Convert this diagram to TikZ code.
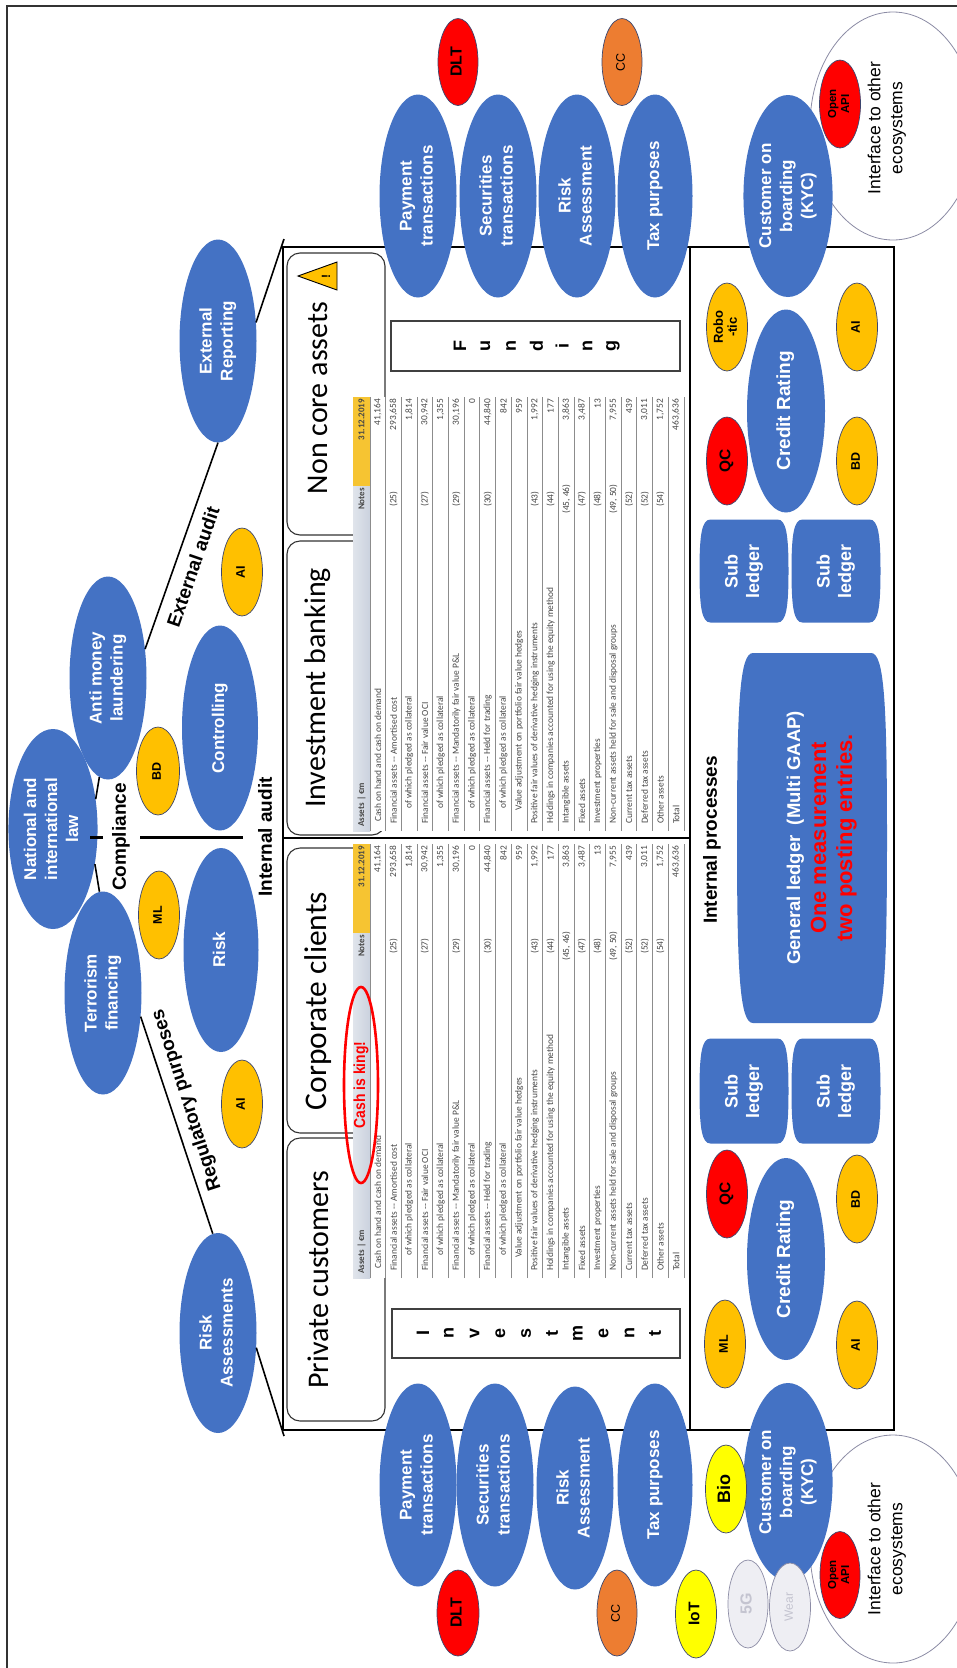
\documentclass[tikz,border=0pt]{standalone}
\usepackage{fontspec}
\setmainfont{Liberation Sans}
\newfontfamily\calib{Carlito}
\usetikzlibrary{shapes.geometric,calc}

\definecolor{ublue}{RGB}{68,114,196}
\definecolor{ugold}{RGB}{255,192,0}
\definecolor{ured}{RGB}{255,0,0}
\definecolor{uorange}{RGB}{237,125,49}
\definecolor{uyellow}{RGB}{255,255,0}
\definecolor{edgeblue}{RGB}{60,70,110}
\definecolor{hdrgrey}{RGB}{203,210,222}
\definecolor{hdryellow}{RGB}{246,196,50}
\definecolor{fadefill}{RGB}{238,238,243}
\definecolor{fadeedge}{RGB}{140,140,165}
\definecolor{fadetext}{RGB}{196,196,208}

\newcommand\fsz[2]{\fontsize{#1}{#2}\selectfont}
\newcommand\rt[1]{\rotatebox{90}{\begin{tabular}{@{}c@{}}#1\end{tabular}}}

% barrel shaped box: name, cx, cy, w, h, corner inset, text
\newcommand\barrel[7]{%
  \fill[ublue] ({#2-#4/2+#6},{#3-#5/2}) -- ({#2+#4/2-#6},{#3-#5/2})
    .. controls ({#2+#4/2-0.2*#6},{#3-#5/2}) and ({#2+#4/2},{#3-#5/2+0.15*#5}) .. ({#2+#4/2},#3)
    .. controls ({#2+#4/2},{#3+#5/2-0.15*#5}) and ({#2+#4/2-0.2*#6},{#3+#5/2}) .. ({#2+#4/2-#6},{#3+#5/2})
    -- ({#2-#4/2+#6},{#3+#5/2})
    .. controls ({#2-#4/2+0.2*#6},{#3+#5/2}) and ({#2-#4/2},{#3+#5/2-0.15*#5}) .. ({#2-#4/2},#3)
    .. controls ({#2-#4/2},{#3-#5/2+0.15*#5}) and ({#2-#4/2+0.2*#6},{#3-#5/2}) .. cycle;
  \node[inner sep=0pt, text=white, font=\fsz{18}{21.5}\bfseries] (#1) at (#2,#3) {#7};
}

% table rows: prefix, index, label offset, label, note, value
\newcommand\trow[6]{%
  \node[tcell, anchor=west] (#1l#2) at (#3,{17+15.7*#2-7.85}) {#4};
  \node[tcell] (#1n#2) at (332,{17+15.7*#2-7.85}) {#5};
  \node[tcell, anchor=east] (#1v#2) at (432,{17+15.7*#2-7.85}) {#6};
}
\newcommand\trowa[5]{%
  \node[tcell, anchor=west] (#1l#2) at (#3,{17+15.7*#2-7.85}) {#4};
  \node[tcell, anchor=east] (#1v#2) at (432,{17+15.7*#2-7.85}) {#5};
}

% balance sheet table, drawn along its own axes and turned upright
\newcommand\assettable[3]{%
\begin{scope}[shift={(#2,#3)}, rotate=90]
  \fill[white] (0,0) rectangle (434,331);
  \shade[left color=hdrgrey!60, right color=hdrgrey] (0,0) rectangle (345,17);
  \fill[hdryellow] (345,0) rectangle (434,17);
  \foreach \k in {0,...,20} \draw[rowline] (0,{17+15.7*\k}) -- (434,{17+15.7*\k});
  \node[tcell, anchor=west, font=\calib\fsz{9}{10}\bfseries] (#1h1) at (4,8.5) {Assets | €m};
  \node[tcell, font=\calib\fsz{9}{10}\bfseries] (#1h2) at (332,8.5) {Notes};
  \node[tcell, anchor=east, font=\calib\fsz{9}{10}\bfseries] (#1h3) at (432,8.5) {31.12.2019};
  \trowa{#1}{1}{9}{Cash on hand and cash on demand}{41,164}
  \trow{#1}{2}{7}{Financial assets -- Amortised cost}{(25)}{293,658}
  \trowa{#1}{3}{22}{of which pledged as collateral}{1,814}
  \trow{#1}{4}{7}{Financial assets -- Fair value OCI}{(27)}{30,942}
  \trowa{#1}{5}{22}{of which pledged as collateral}{1,355}
  \trow{#1}{6}{7}{Financial assets -- Mandatorily fair value P\&L}{(29)}{30,196}
  \trowa{#1}{7}{22}{of which pledged as collateral}{0}
  \trow{#1}{8}{7}{Financial assets -- Held for trading}{(30)}{44,840}
  \trowa{#1}{9}{22}{of which pledged as collateral}{842}
  \trowa{#1}{10}{20}{Value adjustment on portfolio fair value hedges}{959}
  \trow{#1}{11}{7}{Positive fair values of derivative hedging instruments}{(43)}{1,992}
  \trow{#1}{12}{7}{Holdings in companies accounted for using the equity method}{(44)}{177}
  \trow{#1}{13}{7}{Intangible assets}{(45, 46)}{3,863}
  \trow{#1}{14}{7}{Fixed assets}{(47)}{3,487}
  \trow{#1}{15}{7}{Investment properties}{(48)}{13}
  \trow{#1}{16}{7}{Non-current assets held for sale and disposal groups}{(49, 50)}{7,955}
  \trow{#1}{17}{7}{Current tax assets}{(52)}{439}
  \trow{#1}{18}{7}{Deferred tax assets}{(52)}{3,011}
  \trow{#1}{19}{7}{Other assets}{(54)}{1,752}
  \trowa{#1}{20}{7}{Total}{463,636}
\end{scope}}

\tikzset{
  bigell/.style={ellipse, fill=ublue, inner sep=0pt, minimum width=77pt, minimum height=203pt,
    text=white, font=\fsz{17}{21}\bfseries},
  smell/.style={ellipse, draw=edgeblue, line width=0.7pt, inner sep=0pt, minimum width=41pt,
    minimum height=88pt, font=\fsz{12.5}{14}\bfseries},
  goldell/.style={smell, fill=ugold},
  redell/.style={smell, fill=ured},
  orell/.style={smell, fill=uorange, font=\fsz{12.5}{14}},
  yell/.style={smell, fill=uyellow},
  fadeell/.style={smell, fill=fadefill, draw=fadeedge, text=fadetext},
  ifell/.style={ellipse, draw=fadeedge, line width=0.8pt, fill=white, minimum width=166pt,
    minimum height=228pt, inner sep=0pt, font=\fsz{17.5}{22}},
  boxline/.style={line width=2.6pt, line cap=rect},
  roof/.style={line width=1.6pt},
  tabbox/.style={draw=black!80, line width=1.1pt, rounded corners=13pt, fill=white},
  lettbox/.style={draw=black!75, line width=1.2pt, fill=white},
  lbl/.style={font=\fsz{19}{22}\bfseries, inner sep=0pt},
  tabtext/.style={font=\calib\fsz{30}{34}, rotate=90, inner sep=0pt},
  fundletter/.style={font=\fsz{18}{20}\bfseries, rotate=90, inner sep=0pt},
  tcell/.style={font=\calib\fsz{9.4}{10}, text=black!72, inner sep=0pt, transform shape},
  rowline/.style={draw=black!45, line width=0.9pt},
}

\begin{document}
\begin{tikzpicture}[x=1pt, y=-1pt]
\useasboundingbox (0,0) rectangle (957,1668);
\clip (0,0) rectangle (957,1668);
\fill[white] (0,0) rectangle (957,1668);

% outer frame
\draw[line width=1.3pt, black!80] (7,1680) -- (7,6) -- (970,6);

% business line tabs
\draw[tabbox] (287,253) rectangle (385,535);
\node[tabtext] (nca) at (318,398) {Non core assets};
\filldraw[fill=ugold, draw=black, line width=0.9pt] (298,276) -- (337,262) -- (337,290) -- cycle;
\node[rotate=90, font=\fsz{12}{12}\bfseries, inner sep=0pt] (warn) at (326,276) {!};
\draw[tabbox] (287,541) rectangle (385,835);
\node[tabtext] (ibk) at (318,688) {Investment banking};
\draw[tabbox] (287,848) rectangle (385,1133);
\node[tabtext, font=\calib\fsz{31.5}{34}] (ccl) at (318,1001) {Corporate clients};
\draw[tabbox] (287,1138) rectangle (385,1421);
\node[tabtext] (pcu) at (318,1280) {Private customers};

% balance sheets
\assettable{ta}{353}{831}
\assettable{tb}{353}{1278}

\node[ellipse, draw=ured, line width=2.6pt, minimum width=34pt, minimum height=196pt, inner sep=0pt,
  text=ured, font=\fsz{16}{18}\bfseries] (cash) at (361,1085) {\rotatebox{90}{\scalebox{0.87}[1]{Cash is king!}}};

% funding and investment strips
\draw[lettbox] (391,321) rectangle (680,371);
\foreach \c [count=\i from 0] in {F,u,n,d,i,n,g}
  \node[fundletter] (fund\i) at ({460+25.5*\i},346) {\c};
\draw[lettbox] (392,1309) rectangle (680,1358);
\foreach \c [count=\i from 0] in {I,n,v,e,s,t,m,e,n,t}
  \node[fundletter] (inv\i) at ({423+25.8*\i},1333) {\c};

% main frame
\draw[boxline] (283,247) rectangle (894,1430);
\draw[boxline] (690,247) -- (690,1430);
\draw[boxline] (283,838) -- (690,838);

% roof ellipses
\node[bigell] (er) at (218,341) {\rt{External\\Reporting}};
\node[bigell] (aml) at (108,678) {\rt{Anti money\\laundering}};
\node[bigell, minimum width=74pt, minimum height=200pt] (nil) at (53,829) {\rt{National and\\international\\law}};
\node[bigell] (tf) at (103,993) {\rt{Terrorism\\financing}};
\node[bigell, minimum height=200pt] (ra) at (218,1333) {\rt{Risk\\Assessments}};
\node[bigell, minimum width=76pt, minimum height=205pt] (ctrl) at (220,728) {\rt{Controlling}};
\node[bigell, minimum width=75pt, minimum height=204pt] (risk) at (221,950) {\rt{Risk}};
\node[goldell, minimum width=43pt] (bd1) at (158,771) {\rt{BD}};
\node[goldell] (ml1) at (159,915) {\rt{ML}};
\node[goldell] (ai1) at (242,572) {\rt{AI}};
\node[goldell] (ai2) at (242,1104) {\rt{AI}};

% roof lines
\coordinate (cornerB) at (284,1436);
\coordinate (cornerT) at (284,239);
\draw[roof] (ra.-21) -- (cornerB);
\draw[roof] (ra.93) -- (tf.-32);
\draw[roof] (tf.92) -- (nil.-40);
\draw[roof] (nil.35) -- (aml.-95);
\draw[roof] (aml.38) -- (er.-90);
\draw[roof] (er.26) -- (cornerT);
\draw[line width=3pt] (90,837) -- (103,837);
\draw[line width=3pt] (140,837) -- (243,837);

\node[lbl, rotate=90] (compl) at (121,837) {Compliance};
\node[lbl, rotate=90] (iaud) at (265,837) {Internal audit};
\node[lbl, rotate=71] (eaud) at (193,567) {External audit};
\node[lbl, rotate=108] (regp) at (187,1100) {Regulatory purposes};

% upper service row
\node[ifell] (int1) at (893,126) {};
\node[inner sep=0pt, font=\fsz{17.5}{22}] (int1t) at (887,128) {\rt{Interface to other\\ecosystems}};
\node[bigell] (pt1) at (418,196) {\rt{Payment\\transactions}};
\node[bigell] (st1) at (498,196) {\rt{Securities\\transactions}};
\node[bigell] (rsa1) at (577,196) {\rt{Risk\\Assessment}};
\node[bigell, minimum width=75pt] (tax1) at (655,196) {\rt{Tax purposes}};
\node[bigell, minimum width=73pt, minimum height=202pt] (kyc1) at (788,196) {\rt{Customer on\\boarding\\(KYC)}};
\node[redell, minimum width=40pt, minimum height=87pt, font=\fsz{16}{18}\bfseries] (dlt1) at (458,62) {\rt{DLT}};
\node[orell, minimum width=40pt, minimum height=87pt] (cc1) at (622,62) {\rt{CC}};
\node[redell, font=\fsz{11.5}{13}\bfseries] (api1) at (840,104) {\rt{Open\\API}};

% lower service row
\node[ifell] (int2) at (893,1549) {};
\node[inner sep=0pt, font=\fsz{17.5}{22}] (int2t) at (887,1549) {\rt{Interface to other\\ecosystems}};
\node[bigell] (pt2) at (418,1485) {\rt{Payment\\transactions}};
\node[bigell] (st2) at (495,1485) {\rt{Securities\\transactions}};
\node[bigell] (rsa2) at (575,1488) {\rt{Risk\\Assessment}};
\node[bigell, minimum width=75pt] (tax2) at (655,1485) {\rt{Tax purposes}};
\node[bigell, minimum width=73pt, minimum height=198pt] (kyc2) at (788,1482) {\rt{Customer on\\boarding\\(KYC)}};
\node[redell, minimum width=42pt, minimum height=86pt, font=\fsz{16}{18}\bfseries] (dlt2) at (458,1613) {\rt{DLT}};
\node[orell, minimum width=40pt, minimum height=86pt] (cc2) at (617,1613) {\rt{CC}};
\node[yell, font=\fsz{15.5}{17}\bfseries] (iot) at (696,1614) {\rt{IoT}};
\node[yell, font=\fsz{18}{20}\bfseries] (bio) at (726,1489) {\rt{Bio}};
\node[fadeell, minimum width=40pt, font=\fsz{16}{18}\bfseries] (fiveg) at (748,1604) {\rt{5G}};
\node[fadeell, font=\fsz{12}{14}] (wear) at (790,1607) {\rt{Wear}};
\node[redell, minimum width=40pt, minimum height=87pt, font=\fsz{11.5}{13}\bfseries] (api2) at (840,1575) {\rt{Open\\API}};

% internal processes
\node[goldell, font=\fsz{13}{14}\bfseries] (robo) at (727,327) {\rt{Robo\\-tic}};
\node[goldell] (ai3) at (857,327) {\rt{AI}};
\node[bigell, minimum width=78pt, font=\fsz{19}{21}\bfseries] (cr1) at (786,411) {\rt{Credit Rating}};
\node[redell, font=\fsz{15.5}{17}\bfseries] (qc1) at (727,461) {\rt{QC}};
\node[goldell] (bd2) at (857,461) {\rt{BD}};
\barrel{sl1}{744}{571}{89}{103}{11}{\rt{Sub\\ledger}}
\barrel{sl2}{836}{571}{89}{103}{11}{\rt{Sub\\ledger}}
\fill[ublue] (753,653) -- (871,653)
  .. controls (884,653) and (887,700) .. (887,838)
  .. controls (887,976) and (884,1023) .. (871,1023)
  -- (753,1023)
  .. controls (740,1023) and (737,976) .. (737,838)
  .. controls (737,700) and (740,653) .. cycle;
\node[inner sep=0pt, font=\fsz{22}{26}\bfseries] (gl) at (821,838) {\rotatebox{90}{\begin{tabular}{@{}c@{}}
  \textcolor{white}{\fsz{18.5}{26}\bfseries General ledger\ \ (Multi GAAP)}\\
  \textcolor{ured}{One measurement}\\
  \textcolor{ured}{two posting entries.}\end{tabular}}};
\barrel{sl3}{744}{1091}{89}{105}{11}{\rt{Sub\\ledger}}
\barrel{sl4}{836}{1091}{89}{105}{11}{\rt{Sub\\ledger}}
\node[redell, font=\fsz{15.5}{17}\bfseries] (qc2) at (727,1194) {\rt{QC}};
\node[goldell] (bd3) at (857,1199) {\rt{BD}};
\node[bigell, minimum width=78pt, minimum height=202pt, font=\fsz{19}{21}\bfseries] (cr2) at (786,1259) {\rt{Credit Rating}};
\node[goldell] (ml2) at (725,1344) {\rt{ML}};
\node[goldell] (ai4) at (857,1345) {\rt{AI}};
\node[lbl, rotate=90] (iproc) at (712,840) {Internal processes};
\end{tikzpicture}
\end{document}
